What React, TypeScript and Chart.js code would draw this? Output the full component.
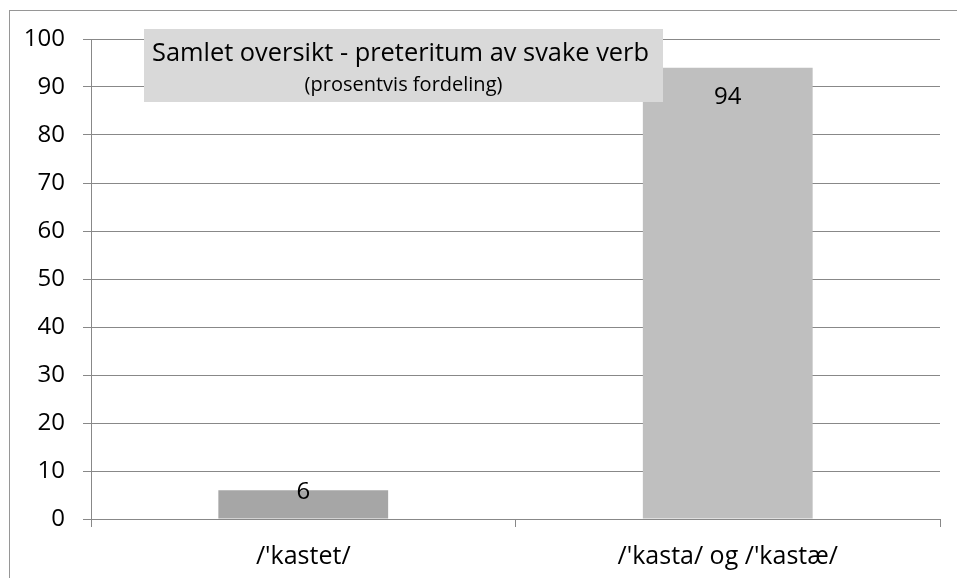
import { useEffect, useRef } from 'react';
import { Chart, registerables } from 'chart.js';

Chart.register(...registerables);

const categories = ["/'kastet/", "/'kasta/ og /'kastæ/"];
const values = [6, 94];
const barColors = ['#a6a6a6', '#bfbfbf'];
const yMin = 0;
const yMax = 100;
const yStep = 10;
const titleMain = 'Samlet oversikt - preteritum av svake verb';
const titleSub = '(prosentvis fordeling)';

const FONT = '"Open Sans", "DejaVu Sans", sans-serif';
const AXIS_COLOR = '#888888';

const overlayPlugin = {
  id: 'overlay',
  afterDatasetsDraw(chart: any) {
    const ctx = chart.ctx as CanvasRenderingContext2D;
    const area = chart.chartArea;
    // title box
    const bx = area.left + 53;
    const by = area.top - 10;
    const bw = 519;
    const bh = 73;
    ctx.save();
    ctx.fillStyle = '#d9d9d9';
    ctx.fillRect(bx, by, bw, bh);
    ctx.fillStyle = '#000';
    ctx.textAlign = 'center';
    ctx.textBaseline = 'alphabetic';
    ctx.font = `25.4px ${FONT}`;
    ctx.fillText(titleMain, bx + bw / 2 - 3, by + 32);
    ctx.font = `20px ${FONT}`;
    ctx.fillText(titleSub, bx + bw / 2, by + 62);
    // data labels
    const meta = chart.getDatasetMeta(0);
    ctx.font = `24px ${FONT}`;
    ctx.textBaseline = 'middle';
    meta.data.forEach((bar: any, i: number) => {
      const y = Math.min(bar.y + 29, bar.base - 26);
      ctx.fillText(String(values[i]), bar.x, y);
    });
    ctx.restore();
  },
};

export default function App() {
  const ref = useRef<HTMLCanvasElement | null>(null);
  useEffect(() => {
    if (!ref.current) return;
    const chart = new Chart(ref.current, {
      type: 'bar',
      data: {
        labels: categories,
        datasets: [
          {
            data: values,
            backgroundColor: barColors,
            borderWidth: 0,
            barPercentage: 0.4,
            categoryPercentage: 1,
          },
        ],
      },
      options: {
        animation: false,
        responsive: false,
        devicePixelRatio: 1,
        layout: { padding: { left: 0, top: 39, right: 17, bottom: 0 } },
        plugins: { legend: { display: false }, tooltip: { enabled: false }, title: { display: false } },
        scales: {
          x: {
            grid: { offset: true, drawOnChartArea: false, drawTicks: true, tickLength: 8, color: AXIS_COLOR, lineWidth: 1 },
            border: { color: AXIS_COLOR, width: 1 },
            ticks: { font: { family: FONT, size: 25 }, color: '#000', padding: 15, maxRotation: 0 },
            afterFit: (s: any) => { s.height = 59; },
          },
          y: {
            min: yMin,
            max: yMax,
            ticks: { stepSize: yStep, font: { family: FONT, size: 24 }, color: '#000', padding: 18 },
            grid: { color: AXIS_COLOR, lineWidth: 1, tickLength: 8, drawTicks: true },
            border: { color: AXIS_COLOR, width: 1 },
            afterFit: (s: any) => { s.width = 91; },
          },
        },
      },
      plugins: [overlayPlugin],
    });
    return () => chart.destroy();
  }, []);
  return (
    <div style={{ position: 'absolute', left: 0, top: 0, width: 957, height: 578, overflow: 'hidden', background: '#fff' }}>
      <canvas ref={ref} width={957} height={578} style={{ position: 'absolute', left: 0, top: 0, width: 957, height: 578 }} />
      <div style={{ position: 'absolute', left: 9, top: 10, width: 947, height: 567, borderLeft: '1px solid #969696', borderTop: '1px solid #969696', pointerEvents: 'none' }} />
    </div>
  );
}
